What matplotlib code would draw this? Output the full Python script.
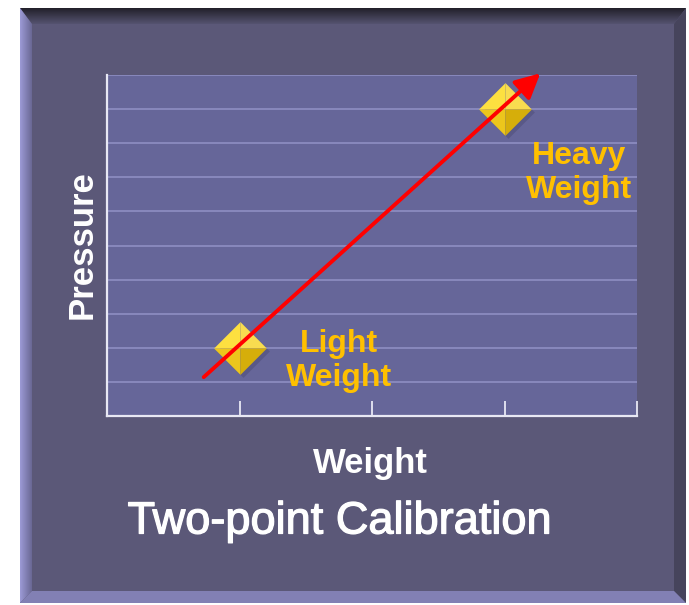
import numpy as np
import matplotlib
matplotlib.use("Agg")
import matplotlib.pyplot as plt
from matplotlib.path import Path
from matplotlib.patches import Polygon, FancyArrowPatch
from matplotlib import transforms
import matplotlib.patheffects as pe

# ---- data ----
point_labels = ["Light\nWeight", "Heavy\nWeight"]
point_x = [1.0, 3.0]
point_y = [2.0, 9.0]
arrow_start = [0.73, 1.14]
arrow_end = [3.27, 10.05]
x_ticks = [1, 2, 3, 4]
y_grid = [1, 2, 3, 4, 5, 6, 7, 8, 9, 10]
x_label = "Weight"
y_label = "Pressure"
title = "Two-point Calibration"

W, H = 689, 605
fig = plt.figure(figsize=(W / 100, H / 100), dpi=100)
fig.patch.set_facecolor("white")

# ---- bevelled panel background (pixel coordinates) ----
bg = fig.add_axes([0, 0, 1, 1])
bg.set_xlim(0, W)
bg.set_ylim(H, 0)
bg.axis("off")
L, T, R, B = 20, 8, 686, 603
bw = 12
face = "#5b5878"
bg.add_patch(Polygon([[L, T], [R, T], [R, B], [L, B]], closed=True, fc=face, ec="none"))
# top (dark gradient)
top_poly = Polygon([[L, T], [R, T], [R - bw, T + 16], [L + bw, T + 16]], closed=True, fc="none", ec="none")
bg.add_patch(top_poly)
grad = np.linspace(0, 1, 64).reshape(-1, 1)
c0 = np.array([0x22, 0x20, 0x2a]) / 255
c1 = np.array([0x55, 0x53, 0x70]) / 255
img = c0 + (c1 - c0) * grad[..., None]
img = np.repeat(img, 2, axis=1)
im = bg.imshow(img, extent=[L, R, T + 16, T], aspect="auto", zorder=1)
im.set_clip_path(top_poly)
# left (light)
left_poly = Polygon([[L, T], [L + bw, T + 16], [L + bw, B - bw], [L, B]], closed=True, fc="none", ec="none")
bg.add_patch(left_poly)
gl = np.linspace(0, 1, 64).reshape(1, -1)
lc0 = np.array([0x9c, 0x9a, 0xd6]) / 255
lc1 = np.array([0x6a, 0x68, 0x94]) / 255
imgl = lc0 + (lc1 - lc0) * gl[..., None]
imgl = np.repeat(imgl, 2, axis=0)
iml = bg.imshow(imgl, extent=[L, L + bw, B, T], aspect="auto", zorder=1)
iml.set_clip_path(left_poly)
# right (dark)
bg.add_patch(Polygon([[R, T], [R, B], [R - bw, B - bw], [R - bw, T + 16]], closed=True,
                     fc="#46445c", ec="none", zorder=1))
# bottom (light)
bg.add_patch(Polygon([[L, B], [L + bw, B - bw], [R - bw, B - bw], [R, B]], closed=True,
                     fc="#8280b4", ec="none", zorder=1))

# ---- main axes ----
ax_l, ax_r, ax_t, ax_b = 107, 637, 75, 416
ax = fig.add_axes([ax_l / W, 1 - ax_b / H, (ax_r - ax_l) / W, (ax_b - ax_t) / H])
ax.set_facecolor("#666699")
ax.set_xlim(0, 4)
ax.set_ylim(0, 10)
for s in ["top", "right"]:
    ax.spines[s].set_visible(False)
for s in ["left", "bottom"]:
    ax.spines[s].set_color("#e8e8f4")
    ax.spines[s].set_linewidth(1.6)
ax.set_xticks(x_ticks)
ax.set_xticklabels([])
ax.set_yticks(y_grid)
ax.set_yticklabels([])
ax.tick_params(axis="x", direction="in", length=11, width=1.3, color="#e8e8f4")
ax.tick_params(axis="y", length=0)
ax.grid(axis="y", color="#8e8ec2", linewidth=1.2)
ax.set_axisbelow(True)

# ---- pyramid diamond markers ----
facets = [
    ([(0, 0), (-1, 0), (0, 1), (0, 0)], "#fde040"),   # top-left
    ([(0, 0), (0, 1), (1, 0), (0, 0)], "#f8dc50"),    # top-right
    ([(0, 0), (-1, 0), (0, -1), (0, 0)], "#ecc61c"),  # bottom-left
    ([(0, 0), (0, -1), (1, 0), (0, 0)], "#d6ae0a"),   # bottom-right
]
diamond = Path([(-1, 0), (0, 1), (1, 0), (0, -1), (-1, 0)])
ms = 38
shadow_tr = transforms.offset_copy(ax.transData, fig=fig, x=3, y=-3, units="dots")
ax.plot(point_x, point_y, linestyle="none", marker=diamond, markersize=ms,
        markerfacecolor="#3c3a60", markeredgecolor="none", alpha=0.3,
        transform=shadow_tr, zorder=3)
for verts, col in facets:
    ax.plot(point_x, point_y, linestyle="none", marker=Path(verts), markersize=ms,
            markerfacecolor=col, markeredgecolor="none", zorder=4)

# ---- red arrow ----
arr = FancyArrowPatch(tuple(arrow_start), tuple(arrow_end),
                      arrowstyle="-|>,head_length=0.75,head_width=0.38",
                      mutation_scale=20, color="#ff0000", linewidth=2.8,
                      shrinkA=0, shrinkB=0, clip_on=False, zorder=5)
ax.add_patch(arr)

# ---- point labels ----
gold = "#ffc000"
font = "Liberation Sans"
ax.text(1.75, 1.62, point_labels[0], ha="center", va="center", color=gold,
        fontsize=23, fontweight="bold", family=font, linespacing=1.17, zorder=6)
ax.text(3.56, 7.12, point_labels[1], ha="center", va="center", color=gold,
        fontsize=23, fontweight="bold", family=font, linespacing=1.17, zorder=6)

# ---- axis labels and title ----
fig.text(82 / W, 1 - 245 / H, y_label, rotation=90, ha="center", va="center",
         color="white", fontsize=25, fontweight="bold", family=font)
fig.text(370 / W, 1 - 464 / H, x_label, ha="center", va="center",
         color="white", fontsize=25, fontweight="bold", family=font)
fig.text(339 / W, 1 - 522 / H, title, ha="center", va="center",
         color="white", fontsize=32.5, family=font,
         path_effects=[pe.withStroke(linewidth=0.9, foreground="white")])

fig.savefig("out.png", dpi=100, facecolor=fig.get_facecolor())
